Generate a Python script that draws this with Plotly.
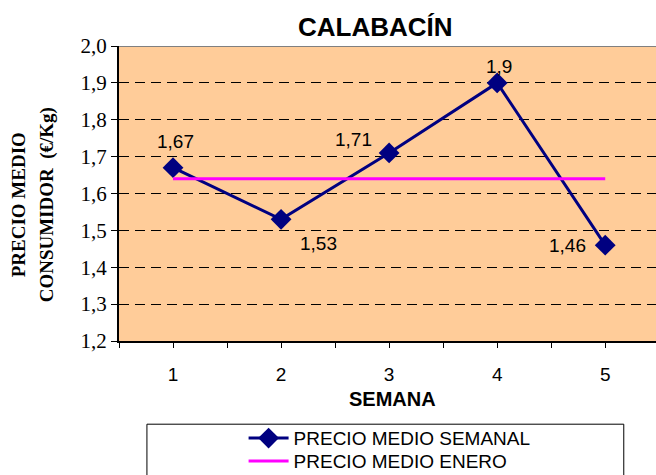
import plotly.graph_objects as go

# weekly consumer price for calabacín, January
semanas = [1, 2, 3, 4, 5]
precioSemanal = [1.67, 1.53, 1.71, 1.9, 1.46]
precioEnero = [1.64, 1.64, 1.64, 1.64, 1.64]
etiquetas = ['1,67', '1,53', '1,71', '1,9', '1,46']

# pixel offsets of each value label from its point
desplX = [2, 37, -36, 2, -38]
desplY = [26, -24, 13, 16, 0]

fig = go.Figure()

fig.add_scatter(x=semanas, y=precioSemanal, mode='lines+markers', name='PRECIO MEDIO SEMANAL',
                line=dict(color='#000080', width=3),
                marker=dict(symbol='diamond', size=16, color='#000080'))
# second entry in its own legend so the rows sit closer together
fig.add_scatter(x=semanas, y=precioEnero, mode='lines', name='PRECIO MEDIO ENERO',
                line=dict(color='#FF00FF', width=3), legend='legend2')

for sem, precio, txt, dx, dy in zip(semanas, precioSemanal, etiquetas, desplX, desplY):
    fig.add_annotation(x=sem, y=precio, text=txt, showarrow=False, xshift=dx, yshift=dy,
                       font=dict(family='Liberation Sans', size=19, color='black'))

# box round the legend, wider than its content like the original
fig.add_shape(type='rect', xref='paper', yref='paper', x0=0.052, x1=0.94, y0=-0.282, y1=-0.52,
              line=dict(color='black', width=1), fillcolor='white', layer='below')
# grey top border of the plot area
fig.add_shape(type='line', xref='paper', yref='y', x0=0, x1=1, y0=2.0, y1=2.0,
              line=dict(color='#808080', width=2))

fig.add_annotation(text='<b>CALABACÍN</b>', xref='paper', yref='paper', x=0.477, y=1.0,
                   yshift=2, showarrow=False, xanchor='center', yanchor='bottom',
                   font=dict(family='Liberation Sans', size=26, color='black'))
fig.add_annotation(text='<b>SEMANA</b>', xref='paper', yref='paper', x=0.51, y=-0.195,
                   showarrow=False, xanchor='center', yanchor='middle',
                   font=dict(family='Liberation Sans', size=20, color='black'))
fig.add_annotation(text='<b>PRECIO MEDIO</b>', xref='paper', yref='paper', x=-0.188, y=0.46,
                   textangle=-90, showarrow=False, xanchor='center', yanchor='middle',
                   font=dict(family='Liberation Serif', size=19, color='black'))
fig.add_annotation(text='<b>CONSUMIDOR  (€/Kg)</b>', xref='paper', yref='paper', x=-0.134, y=0.46,
                   textangle=-90, showarrow=False, xanchor='center', yanchor='middle',
                   font=dict(family='Liberation Serif', size=19, color='black'))

legendStyle = dict(xanchor='left', yanchor='top', bgcolor='rgba(0,0,0,0)', borderwidth=0,
                   font=dict(family='Liberation Sans', size=19, color='black'), itemwidth=40)

fig.update_layout(
    width=656, height=475,
    margin=dict(l=119, r=0, t=46, b=134, autoexpand=False),
    paper_bgcolor='white',
    plot_bgcolor='#FFCC99',
    separators=',.',
    showlegend=True,
    legend=dict(x=0.232, y=-0.265, **legendStyle),
    legend2=dict(x=0.232, y=-0.343, **legendStyle),
    xaxis=dict(range=[0.5, 5.47], tickmode='array', tickvals=semanas, automargin=False,
               ticks='outside', ticklen=5, tickcolor='black', ticklabelstandoff=10,
               minor=dict(tickmode='array', tickvals=[0.5, 1.5, 2.5, 3.5, 4.5, 5.5],
                          ticks='outside', ticklen=5, tickcolor='black', showgrid=False),
               showgrid=False, zeroline=False,
               showline=True, linecolor='black', linewidth=2,
               tickfont=dict(family='Liberation Sans', size=19, color='black')),
    yaxis=dict(range=[1.2, 2.0], dtick=0.1, tick0=1.2, tickformat='.1f', automargin=False,
               ticks='outside', ticklen=6, tickcolor='black',
               showgrid=True, gridcolor='black', griddash='10px,6px', gridwidth=1,
               zeroline=False, showline=True, linecolor='black', linewidth=2,
               tickfont=dict(family='Times New Roman, Liberation Serif, serif', size=21, color='black')),
)

# drop the page's default body margin so the figure sits at the window corner
fig.write_html("out.html", config={'displayModeBar': False},
               post_script="document.body.style.margin='0';document.body.style.overflow='hidden';")
